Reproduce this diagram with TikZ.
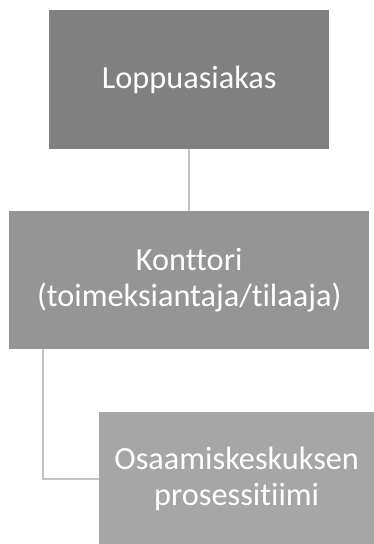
\documentclass[tikz,border=0pt]{standalone}
\usepackage{fontspec}
\setmainfont{Carlito}[Ligatures=NoCommon]
\definecolor{boxA}{HTML}{808080}
\definecolor{boxB}{HTML}{959595}
\definecolor{boxC}{HTML}{A6A6A6}
\definecolor{linkgray}{HTML}{C4C4C4}
\begin{document}
\begin{tikzpicture}[x=1pt,y=-1pt,
  box/.style={draw=none,text=white,align=center,font=\fontsize{32.3}{36}\selectfont,inner sep=0pt,anchor=north west},
  link/.style={draw=linkgray,line width=2.2pt}]
\useasboundingbox[fill=white] (0,0) rectangle (374,544);
\node[box,fill=boxA,minimum width=280pt,minimum height=139pt] (a) at (49,10) {Loppuasiakas};
\node[box,fill=boxB,minimum width=360pt,minimum height=138pt] (b) at (9,211) {Konttori\\(toimeksiantaja/tilaaja)};
\node[box,fill=boxC,minimum width=275pt,minimum height=133pt] (c) at (99,412) {Osaamiskeskuksen\\prosessitiimi};
\coordinate (bend) at (43,479);
\draw[link] (a.south) -- (b.north);
\draw[link] (b.south west -| bend) -- (bend) -- (c.west |- bend);
\end{tikzpicture}
\end{document}
